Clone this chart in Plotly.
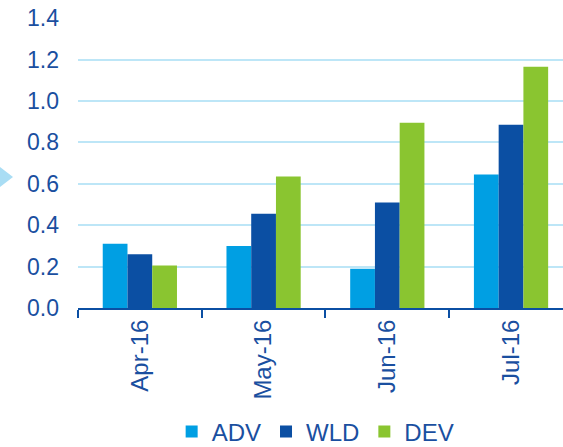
import plotly.graph_objects as go

months = ["Apr-16", "May-16", "Jun-16", "Jul-16"]
adv = [0.31, 0.30, 0.19, 0.645]
wld = [0.26, 0.455, 0.51, 0.885]
dev = [0.205, 0.635, 0.895, 1.165]

c_adv = "#009FE3"
c_wld = "#0B4FA3"
c_dev = "#8AC530"
txt = "#1A4FA0"

fig = go.Figure()
for name, vals, col in [("ADV", adv, c_adv), ("WLD", wld, c_wld), ("DEV", dev, c_dev)]:
    fig.add_trace(go.Bar(x=months, y=vals, name=name, marker=dict(color=col, line=dict(width=0))))

fig.update_layout(
    width=563, height=447,
    margin=dict(l=78, r=0, t=18, b=139, autoexpand=False),
    plot_bgcolor="white", paper_bgcolor="white",
    barmode="group", bargap=0.4, bargroupgap=0,
    font=dict(family="Liberation Sans, Arial", color=txt, size=23),
    legend=dict(orientation="h", x=0.49, xanchor="center", y=-0.35, yanchor="top",
                font=dict(size=24, color=txt), itemwidth=30, traceorder="normal",
                tracegroupgap=0, itemclick=False),
    showlegend=True,
)
fig.update_xaxes(
    range=[-0.5, 3.42], showline=True, linecolor=c_wld, linewidth=2,
    ticks="outside", tickson="boundaries", ticklen=8, tickcolor=c_wld, tickwidth=2,
    tickangle=-90, tickfont=dict(size=24, color=txt), showgrid=False, automargin=False,
)
fig.update_yaxes(
    range=[0, 1.4005], dtick=0.2, tickformat=".1f", showgrid=True, gridcolor="#BDE6F7",
    gridwidth=2, zeroline=False, ticks="", tickfont=dict(size=23, color=txt),
    ticklabelstandoff=18, automargin=False,
)
fig.add_shape(type="path", xref="paper", yref="paper",
              path="M -0.161 0.486 L -0.134 0.452 L -0.161 0.417 Z",
              fillcolor="#A9DDF4", line=dict(width=0), layer="above")
fig.write_html("out.html")
